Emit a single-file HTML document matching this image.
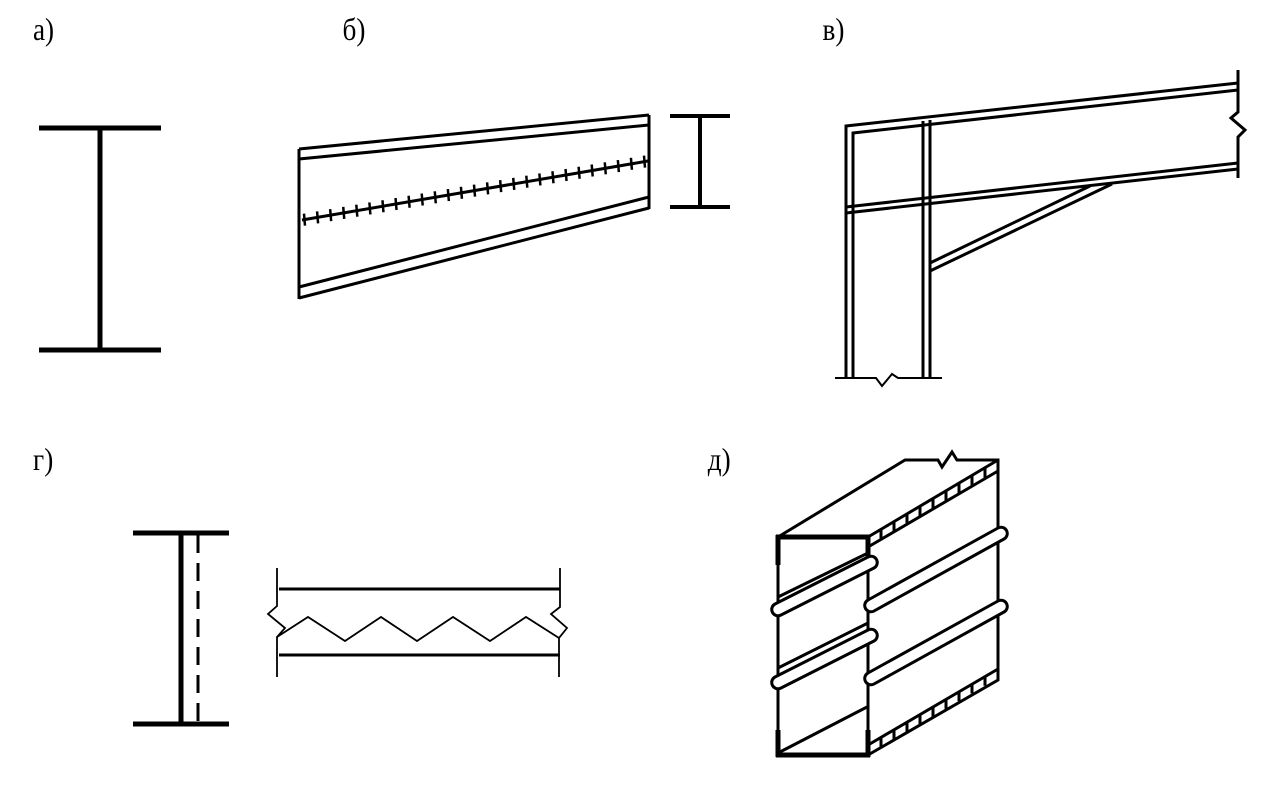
<!DOCTYPE html>
<html><head><meta charset="utf-8"><style>
html,body{margin:0;padding:0;background:#fff;}
svg{display:block}
text{font-family:"Liberation Serif",serif;font-size:32px;fill:#000}
</style></head><body>
<svg id="s" width="1272" height="787" viewBox="0 0 1272 787" xmlns="http://www.w3.org/2000/svg" stroke="#000" fill="none" stroke-linecap="butt">
<g stroke="none">
<text x="33" y="40" transform="scale(0.85,1) translate(5.8,0)">а)</text>
<text x="343" y="40" transform="translate(51,0) scale(0.85,1)">б)</text>
<text x="823" y="40" transform="translate(123,0) scale(0.85,1)">в)</text>
<text x="33" y="470" transform="translate(5,0) scale(0.85,1)">г)</text>
<text x="708" y="470" transform="translate(106,0) scale(0.85,1)">д)</text>
</g>
<!-- a -->
<g stroke-width="5">
<line x1="39" y1="128" x2="161" y2="128"/><line x1="39" y1="350" x2="161" y2="350"/>
<line x1="100" y1="128" x2="100" y2="350"/>
</g>
<!-- b -->
<g stroke-width="3">
<line x1="299" y1="149" x2="299" y2="299"/>
<line x1="649" y1="115" x2="649" y2="209"/>
<line x1="299" y1="149" x2="649" y2="115"/>
<line x1="299" y1="159" x2="649" y2="125"/>
<line x1="299" y1="287" x2="649" y2="197"/>
<line x1="299" y1="298" x2="649" y2="208"/>
<line x1="302" y1="220" x2="648" y2="161"/>
</g>
<g id="ticks" stroke-width="2.5"></g>
<g stroke-width="4">
<line x1="670" y1="116" x2="730" y2="116"/><line x1="670" y1="207" x2="730" y2="207"/>
<line x1="700" y1="116" x2="700" y2="207"/>
</g>
<!-- v -->
<g stroke-width="3">
<polyline points="846,378 846,126 1238,83"/>
<polyline points="853,378 853,133 1238,90"/>
<line x1="923" y1="121" x2="923" y2="378"/>
<line x1="930" y1="120" x2="930" y2="378"/>
<line x1="846" y1="207" x2="1238" y2="163"/>
<line x1="846" y1="213" x2="1238" y2="169"/>
<polyline points="930,263 1090,186"/>
<polyline points="930,271 1112,184"/>
<polyline points="1238,70 1238,112 1231,118 1245,130 1238,137 1238,178"/>
<polyline stroke-width="2" points="835,378 876,378 882,386 892,374 898,378 942,378"/>
</g>
<!-- g -->
<g stroke-width="5">
<line x1="133" y1="533" x2="229" y2="533"/><line x1="133" y1="724" x2="229" y2="724"/>
<line x1="181" y1="533" x2="181" y2="724"/>
</g>
<line x1="198" y1="535" x2="198" y2="722" stroke-width="3" stroke-dasharray="18,10"/>
<g stroke-width="3">
<line x1="279" y1="589" x2="560" y2="589"/><line x1="279" y1="655" x2="560" y2="655"/>
</g>
<g stroke-width="1.8">
<polyline points="277,568 277,606 268,614 285,628 277,637 277,677"/>
<polyline points="560,568 560,607 551,614 567,628 559,638 559,677"/>
<polyline points="277,637 308,617 345,641 381,617 417,641 453,617 490,641 526,617 559,638"/>
</g>
<!-- d -->
<g stroke-width="3">
<polyline points="778,537 905,460 938,460 942,467 952,452 957,460 998,460 998,680 868,755"/>
<line x1="868" y1="537" x2="998" y2="460"/>
<line x1="868" y1="547" x2="998" y2="471"/>
<line x1="868" y1="745" x2="998" y2="669"/>
<line x1="868" y1="537" x2="868" y2="755"/>
<line x1="778" y1="537" x2="778" y2="755"/>
<line x1="778" y1="753" x2="867" y2="707"/>
<line x1="778" y1="597" x2="868" y2="553"/>
<line x1="778" y1="668" x2="868" y2="623"/>
</g>
<g stroke-width="5"><line x1="776" y1="537" x2="870" y2="537"/><line x1="776" y1="755" x2="870" y2="755"/>
<line x1="778" y1="535" x2="778" y2="565"/><line x1="778" y1="730" x2="778" y2="757"/>
<line x1="868" y1="535" x2="868" y2="560"/><line x1="868" y1="730" x2="868" y2="757"/></g>
<g id="hatch" stroke-width="3"></g>
<g stroke-width="3" fill="#fff" stroke-linejoin="round">
<path d="M775,604 L868,557 A6,6 0 0 1 874,568 L781,615 A6,6 0 0 1 775,604 Z"/>
<path d="M868,600 L998,528 A6,6 0 0 1 1004,539 L874,611 A6,6 0 0 1 868,600 Z"/>
<path d="M775,677 L868,630 A6,6 0 0 1 874,641 L781,688 A6,6 0 0 1 775,677 Z"/>
<path d="M868,673 L998,601 A6,6 0 0 1 1004,612 L874,684 A6,6 0 0 1 868,673 Z"/>
</g>
</svg>
<script>
var ns="http://www.w3.org/2000/svg",t=document.getElementById("ticks");
for(var i=0;i<27;i++){var f=i/26,x=304+f*340,y=219.6-f*58;
var l=document.createElementNS(ns,"line");l.setAttribute("x1",x);l.setAttribute("x2",x+1);l.setAttribute("y1",y-6);l.setAttribute("y2",y+6);t.appendChild(l);}
var h=document.getElementById("hatch");
for(var i=1;i<10;i++){var f=i/10;
[[537,547],[745,755]].forEach(function(p){var x=868+f*130,dy=-f*77;
var l=document.createElementNS(ns,"line");l.setAttribute("x1",x);l.setAttribute("x2",x);l.setAttribute("y1",p[0]+dy);l.setAttribute("y2",p[1]+dy);h.appendChild(l);});}
</script>
</body></html>
